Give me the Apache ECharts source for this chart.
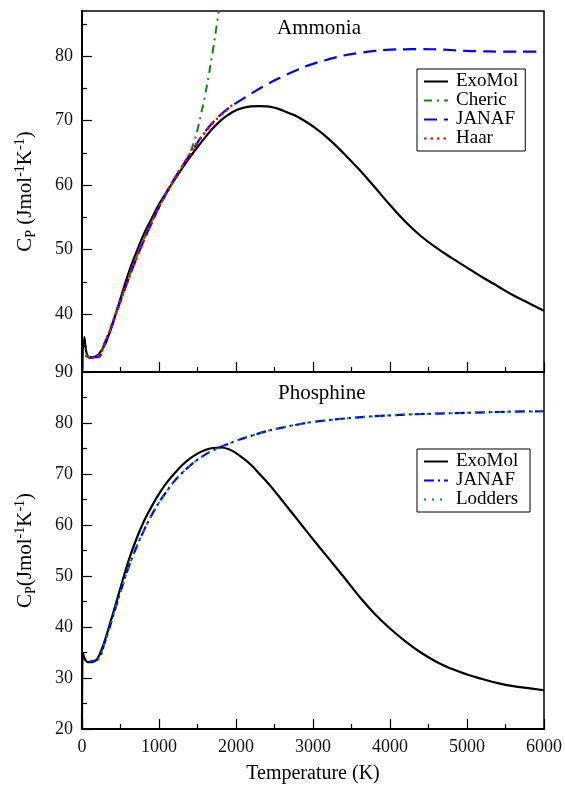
<!DOCTYPE html>
<html>
<head>
<meta charset="utf-8">
<script src="https://cdn.jsdelivr.net/npm/echarts@6/dist/echarts.min.js"></script>
<style>html,body{margin:0;padding:0;background:#fff}#c{width:565px;height:785px}</style>
</head>
<body>
<div id="c"></div>
<script>
// ---------- Ammonia (top panel) ----------
const nh3ExoT = [0,30,50,70,100,150,200,250,300,350,400,450,500,600,700,800,900,1000,1100,1200,1300,1400,1500,1600,1700,1800,1900,2000,2100,2200,2300,2400,2500,2600,2700,2800,3000,3200,3400,3600,3800,4000,4200,4400,4600,4800,5000,5200,5400,5600,5800,6000];
const nh3ExoCp = [28,36.4,34.5,33.6,33.2,33.3,33.6,34.3,35.3,36.8,38.5,40.5,42.4,46.2,49.4,52.3,54.7,57.0,58.9,60.8,62.6,64.3,65.9,67.4,68.8,70.0,70.9,71.6,72.0,72.2,72.25,72.2,72.0,71.6,71.1,70.6,69.1,67.2,64.9,62.4,59.7,56.9,54.3,52.1,50.3,48.7,47.2,45.7,44.3,42.9,41.7,40.5];

const nh3CherT = [50,100,200,300,400,500,600,700,800,900,1000,1100,1200,1300,1400,1450,1500,1550,1600,1650,1700,1750,1800];
const nh3CherCp = [33.7,33.2,33.4,35.5,38.7,42.0,45.4,48.6,51.5,54.1,56.5,58.7,60.8,62.8,65.0,66.5,68.6,71.2,74.0,77.3,80.9,84.8,89.0];

const nh3JanT = [100,200,298,400,500,600,700,800,900,1000,1100,1200,1300,1400,1500,1600,1700,1800,1900,2000,2200,2400,2600,2800,3000,3200,3400,3600,3800,4000,4200,4400,4600,4800,5000,5200,5400,5600,5800,6000];
const nh3JanCp = [33.3,33.3,35.6,38.7,42.0,45.3,48.4,51.3,54.0,56.6,58.9,61.0,62.9,64.7,66.6,68.3,69.7,70.9,71.9,72.7,74.2,75.6,76.8,77.9,78.8,79.5,80.1,80.5,80.8,81.0,81.05,81.1,81.05,80.95,80.8,80.75,80.7,80.7,80.7,80.7];

const nh3HaarT = [50,100,200,300,400,500,600,700,800,900,1000,1100,1200,1300,1400,1500,1600,1700,1800,1900,1950];
const nh3HaarCp = [33.6,33.2,33.4,35.6,38.7,42.0,45.3,48.4,51.3,54.0,56.6,58.9,61.0,62.9,64.8,66.6,68.2,69.6,70.8,71.9,72.4];

// ---------- Phosphine (bottom panel) ----------
const ph3ExoT = [0,10,30,50,80,100,150,200,250,300,350,400,450,500,600,700,800,900,1000,1100,1200,1300,1400,1500,1600,1700,1800,1900,2000,2100,2200,2300,2400,2500,2600,2700,2800,2900,3000,3200,3400,3600,3800,4000,4200,4400,4600,4800,5000,5200,5400,5600,5800,6000];
const ph3ExoCp = [18,35.0,34.0,33.4,33.1,33.1,33.2,33.8,35.4,37.5,40.0,42.5,45.1,47.7,52.8,57.0,60.6,63.5,66.1,68.3,70.1,71.7,73.0,74.0,74.7,75.1,75.2,74.9,74.1,73.0,71.7,70.1,68.5,66.7,64.8,62.9,61.0,59.1,57.2,53.5,49.8,46.0,42.6,39.7,37.2,35.0,33.2,31.8,30.7,29.8,29.0,28.4,28.0,27.6];

const ph3JanT = [100,200,300,400,500,600,700,800,900,1000,1100,1200,1300,1400,1500,1600,1700,1800,1900,2000,2200,2400,2600,2800,3000,3500,4000,4500,5000,5500,6000];
const ph3JanCp = [33.3,33.6,37.2,42.0,46.9,51.5,55.4,58.8,61.8,64.4,66.6,68.6,70.2,71.6,72.8,73.8,74.6,75.3,75.9,76.5,77.5,78.4,79.1,79.7,80.2,81.0,81.5,81.8,82.0,82.2,82.3];

const ph3LodT = [100,200,300,400,500,600,700,800,900,1000,1100,1200,1300,1400,1500,1600,1700,1800,1900,2000,2200,2400,2600,2800,3000,3500,4000,4500,5000,5500,6000];
const ph3LodCp = [33.3,33.6,37.2,42.0,46.9,51.5,55.4,58.8,61.8,64.4,66.6,68.6,70.2,71.6,72.8,73.8,74.6,75.3,75.9,76.5,77.5,78.4,79.1,79.7,80.2,81.0,81.5,81.8,82.0,82.2,82.3];

// ---------- axes ----------
const xTicks = [0,1000,2000,3000,4000,5000,6000];
const topYLabels = [40,50,60,70,80];
const topYMinor = [35,45,55,65,75,85];
const topYRange = [31,87];
const botYRange = [20,90];
const xRange = [0,6000];

const FONT = 'Liberation Serif';
const pairs = (t, v) => t.map((x, i) => [x, v[i]]);

const chart = echarts.init(document.getElementById('c'), null, {renderer: 'canvas'});

const yName = (space) => ({
  name: '{m|C}{sub|P}{m|' + space + '(Jmol}{sup|-1}{m|K}{sup|-1}{m|)}',
  nameLocation: 'middle',
  nameRotate: 90,
  nameGap: 44,
  nameTextStyle: {
    rich: {
      m: {fontFamily: FONT, fontSize: 21, color: '#000', lineHeight: 25},
      sub: {fontFamily: FONT, fontSize: 14, color: '#000', verticalAlign: 'bottom', lineHeight: 12},
      sup: {fontFamily: FONT, fontSize: 14, color: '#000', verticalAlign: 'top', lineHeight: 12}
    }
  }
});

const common = {
  axisLine: {show: true, onZero: false, lineStyle: {color: '#000', width: 2}},
  splitLine: {show: false}
};

function line(name, t, v, color, type, width, xi, yi, z) {
  return {
    name, type: 'line', xAxisIndex: xi, yAxisIndex: yi,
    data: pairs(t, v), symbol: 'none', showSymbol: false,
    smooth: 0.45, clip: true, z: z,
    lineStyle: {color, type, width, cap: 'butt'},
    itemStyle: {color},
    emphasis: {disabled: true}
  };
}

const legendBase = {
  orient: 'vertical',
  itemWidth: 24, itemHeight: 14, itemGap: 0,
  padding: [3, 7, 3, 6],
  itemStyle: {opacity: 0},
  borderColor: '#000', borderWidth: 1, backgroundColor: '#fff',
  textStyle: {fontFamily: FONT, fontSize: 19, color: '#000', padding: [0, 0, 0, 3]},
  selectedMode: false
};

chart.setOption({
  animation: false,
  backgroundColor: '#fff',
  grid: [
    {left: 82, right: 21, top: 11, height: 361, show: true, borderColor: '#000', borderWidth: 1.5, backgroundColor: 'transparent', outerBoundsMode: 'none', containLabel: false},
    {left: 82, right: 21, top: 372, height: 357, show: true, borderColor: '#000', borderWidth: 1.5, backgroundColor: 'transparent', outerBoundsMode: 'none', containLabel: false}
  ],
  xAxis: [
    Object.assign({}, common, {
      type: 'value', gridIndex: 0, min: xRange[0], max: xRange[1], interval: 1000,
      axisTick: {inside: true, length: 10, lineStyle: {color: '#000', width: 1.2}},
      minorTick: {show: true, splitNumber: 2, length: 5, lineStyle: {color: '#000', width: 1.2}},
      axisLabel: {show: false}
    }),
    Object.assign({}, common, {
      type: 'value', gridIndex: 1, min: xRange[0], max: xRange[1], interval: 1000,
      axisTick: {inside: true, length: 10, lineStyle: {color: '#000', width: 1.2}},
      minorTick: {show: true, splitNumber: 2, length: 5, lineStyle: {color: '#000', width: 1.2}},
      axisLabel: {show: true, fontFamily: FONT, fontSize: 18, color: '#111', margin: 9,
        customValues: xTicks, formatter: (v) => String(v)},
      name: 'Temperature (K)', nameLocation: 'middle', nameGap: 35,
      nameTextStyle: {fontFamily: FONT, fontSize: 20, color: '#000'}
    })
  ],
  yAxis: [
    Object.assign({}, common, yName(' '), {
      type: 'value', gridIndex: 0, min: topYRange[0], max: topYRange[1],
      axisTick: {inside: true, length: 10, customValues: topYLabels, lineStyle: {color: '#000', width: 1.2}},
      axisLabel: {show: true, customValues: topYLabels, fontFamily: FONT, fontSize: 18, color: '#111', margin: 9}
    }),
    {
      type: 'value', gridIndex: 0, min: topYRange[0], max: topYRange[1], position: 'left',
      axisLine: {show: false}, splitLine: {show: false},
      axisTick: {show: true, inside: true, length: 5, customValues: topYMinor, lineStyle: {color: '#000', width: 1.2}},
      axisLabel: {show: false}
    },
    Object.assign({}, common, yName(''), {
      type: 'value', gridIndex: 1, min: botYRange[0], max: botYRange[1], interval: 10,
      axisTick: {inside: true, length: 10, lineStyle: {color: '#000', width: 1.2}},
      minorTick: {show: true, splitNumber: 2, length: 5, lineStyle: {color: '#000', width: 1.2}},
      axisLabel: {show: true, fontFamily: FONT, fontSize: 18, color: '#111', margin: 9, formatter: (v) => String(v)}
    })
  ],
  legend: [
    Object.assign({}, legendBase, {data: ['ExoMol', 'Cheric', 'JANAF', 'Haar'], left: 417, top: 69}),
    Object.assign({}, legendBase, {data: ['ExoMol ', 'JANAF ', 'Lodders'], left: 417, top: 449})
  ],
  graphic: [
    {type: 'text', left: 277, top: 18, style: {text: 'Ammonia', font: '21px "Liberation Serif"', fill: '#000'}},
    {type: 'text', left: 278, top: 383, style: {text: 'Phosphine', font: '21px "Liberation Serif"', fill: '#000'}}
  ],
  series: [
    line('ExoMol', nh3ExoT, nh3ExoCp, '#000000', 'solid', 2.2, 0, 0, 5),
    line('Cheric', nh3CherT, nh3CherCp, '#0a8a0a', [8, 5, 2, 5], 2, 0, 0, 6),
    line('JANAF', nh3JanT, nh3JanCp, '#0000ff', [13, 7], 2.2, 0, 0, 7),
    line('Haar', nh3HaarT, nh3HaarCp, '#ff0000', [2.5, 4], 2.5, 0, 0, 8),
    line('ExoMol ', ph3ExoT, ph3ExoCp, '#000000', 'solid', 2.2, 1, 2, 5),
    line('JANAF ', ph3JanT, ph3JanCp, '#0000ff', [10, 4, 2, 4], 2.2, 1, 2, 6),
    line('Lodders', ph3LodT, ph3LodCp, '#0a9a0a', [2, 6], 2, 1, 2, 7)
  ]
});
</script>
</body>
</html>
